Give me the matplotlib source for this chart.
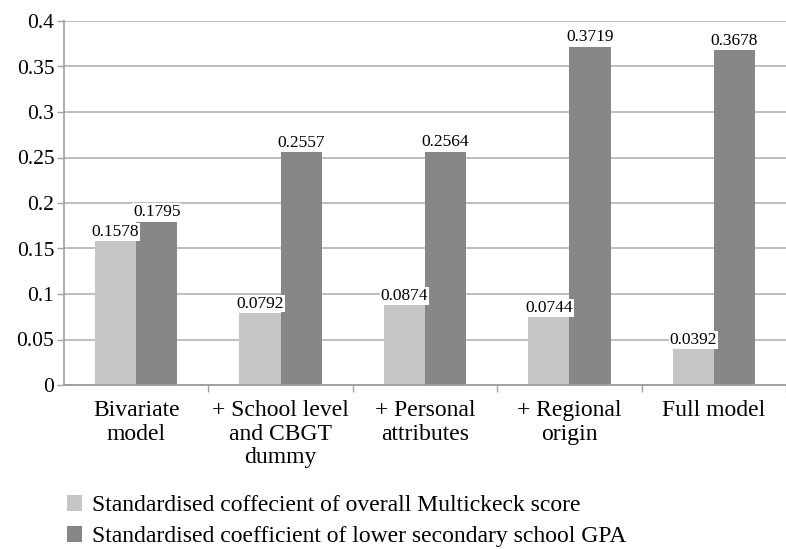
import numpy as np
import matplotlib
matplotlib.use("Agg")
import matplotlib.pyplot as plt

plt.rcParams['font.family'] = ['Liberation Serif', 'DejaVu Serif']

categories = ["Bivariate\nmodel", "+ School level\nand CBGT\ndummy",
              "+ Personal\nattributes", "+ Regional\norigin", "Full model"]
multicheck = [0.1578, 0.0792, 0.0874, 0.0744, 0.0392]
gpa = [0.1795, 0.2557, 0.2564, 0.3719, 0.3678]
series_names = ["Standardised coffecient of overall Multickeck score",
                "Standardised coefficient of lower secondary school GPA"]

light = "#c6c6c6"
dark = "#878787"
grid_col = "#bfbfbf"

fig = plt.figure(figsize=(7.86, 5.49), dpi=100)
ax = fig.add_axes([64/786, 1 - 385/549, 1 - 64/786, (385 - 21)/549])

x = np.arange(len(categories))
w = 0.285
b1 = ax.bar(x - w/2, multicheck, w, color=light, label=series_names[0], zorder=2)
b2 = ax.bar(x + w/2, gpa, w, color=dark, label=series_names[1], zorder=2)

for bars, vals in ((b1, multicheck), (b2, gpa)):
    for r, v in zip(bars, vals):
        ax.annotate(f"{v:.4f}", (r.get_x() + r.get_width()/2, v),
                    xytext=(0, 1), textcoords="offset points",
                    ha="center", va="bottom", fontsize=12.5, zorder=4,
                    bbox=dict(boxstyle="square,pad=0.05", fc="white", ec="none"))

ax.set_ylim(0, 0.4)
ax.set_yticks(np.arange(0, 0.401, 0.05))
ax.set_yticklabels(["0", "0.05", "0.1", "0.15", "0.2", "0.25", "0.3", "0.35", "0.4"])
ax.set_xlim(-0.5, -0.5 + 722/146)
ax.set_xticks(x)
ax.set_xticklabels(categories, fontsize=17, linespacing=1.14)
ax.set_xticks(np.arange(0.5, 4.6, 1.0), minor=True)
ax.tick_params(axis="x", which="major", length=0, pad=11)
ax.tick_params(axis="x", which="minor", length=5, color="#a0a0a0", width=1)
ax.tick_params(axis="y", length=5, color="#a0a0a0", width=1, labelsize=15.5, pad=2)

ax.yaxis.grid(True, color=grid_col, linewidth=1.4, zorder=0)
ax.set_axisbelow(True)
for s in ("top", "right"):
    ax.spines[s].set_visible(False)
ax.spines["left"].set_color("#a0a0a0")
ax.spines["bottom"].set_color("#a0a0a0")
ax.spines["left"].set_linewidth(1.2)
ax.spines["bottom"].set_linewidth(1.4)

fig.legend(handles=[b1, b2], loc="upper left", bbox_to_anchor=(67/786, 1 - 495/549),
           frameon=False, fontsize=17, handlelength=0.64, handleheight=0.64,
           handletextpad=0.4, labelspacing=0.42, borderpad=0, borderaxespad=0)

fig.savefig("out.png", dpi=100)
